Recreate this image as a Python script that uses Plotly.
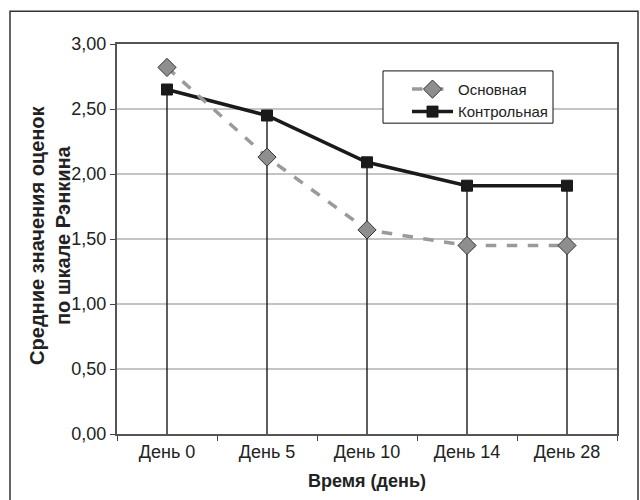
import plotly.graph_objects as go

categories = ["День 0", "День 5", "День 10", "День 14", "День 28"]
main_vals = [2.82, 2.13, 1.57, 1.45, 1.45]
control_vals = [2.65, 2.45, 2.09, 1.91, 1.91]
y_ticks = [0, 0.5, 1.0, 1.5, 2.0, 2.5, 3.0]
y_ticktext = ["0,00", "0,50", "1,00", "1,50", "2,00", "2,50", "3,00"]

FONT = "Liberation Sans, Arial, sans-serif"

fig = go.Figure()

fig.add_trace(go.Scatter(
    x=categories, y=control_vals, name="Контрольная",
    mode="lines+markers", legendgroup="b", legendrank=2,
    line=dict(color="#1a1a1a", width=3.5),
    marker=dict(symbol="square", size=11, color="#1a1a1a",
                line=dict(color="#1a1a1a", width=1)),
    error_y=dict(type="data", symmetric=False, array=[0] * len(control_vals),
                 arrayminus=control_vals, width=0, color="#1a1a1a", thickness=1.4),
))
fig.add_trace(go.Scatter(
    x=categories, y=main_vals, name="Основная",
    mode="lines+markers", legendgroup="a", legendrank=1,
    line=dict(color="#9a9a9a", width=3.5, dash="dash"),
    marker=dict(symbol="diamond", size=14, color="#8e8e8e",
                line=dict(color="#333333", width=1)),
))

fig.update_layout(
    width=640, height=500,
    margin=dict(l=117, r=23, t=44, b=66),
    paper_bgcolor="white", plot_bgcolor="white",
    font=dict(family=FONT, size=18, color="#222222"),
    showlegend=True,
    legend=dict(
        x=0.58, y=0.926, xanchor="left", yanchor="top",
        borderwidth=0, bgcolor="rgba(0,0,0,0)",
        font=dict(family=FONT, size=15, color="#222222"),
        traceorder="normal", tracegroupgap=6, itemwidth=41,
    ),
    xaxis=dict(
        type="category", tickson="boundaries", ticks="outside", ticklen=5,
        tickcolor="#444444", showline=True, linecolor="#555555", linewidth=2,
        mirror=True, showgrid=False, range=[-0.5, 4.5],
        tickfont=dict(family=FONT, size=18, color="#222222"),
        title=dict(text="<b>Время (день)</b>", font=dict(family=FONT, size=18, color="#222222"), standoff=14),
    ),
    yaxis=dict(
        range=[0, 3], tickvals=y_ticks, ticktext=y_ticktext,
        ticks="outside", ticklen=5, tickcolor="#444444",
        showline=True, linecolor="#555555", linewidth=2, mirror=True,
        showgrid=True, gridcolor="#c4c4c4", gridwidth=1.5, zeroline=False,
        tickfont=dict(family=FONT, size=18, color="#222222"),
    ),
    annotations=[dict(
        text="<b>Средние значения оценок<br>по шкале Рэнкина</b>",
        xref="paper", yref="paper", x=-0.134, y=0.508,
        xanchor="center", yanchor="middle", textangle=-90, showarrow=False,
        font=dict(family=FONT, size=20, color="#222222"),
    )],
    shapes=[
        dict(type="rect", xref="paper", yref="paper",
             x0=-0.214, x1=1.042, y0=-0.19, y1=1.084,
             line=dict(color="#333333", width=1.5), fillcolor="rgba(0,0,0,0)",
             layer="below"),
        dict(type="rect", xref="paper", yref="paper",
             x0=0.532, x1=0.872, y0=0.797, y1=0.931,
             line=dict(color="#111111", width=1), fillcolor="white",
             layer="above"),
    ],
)

fig.write_html("out.html")
